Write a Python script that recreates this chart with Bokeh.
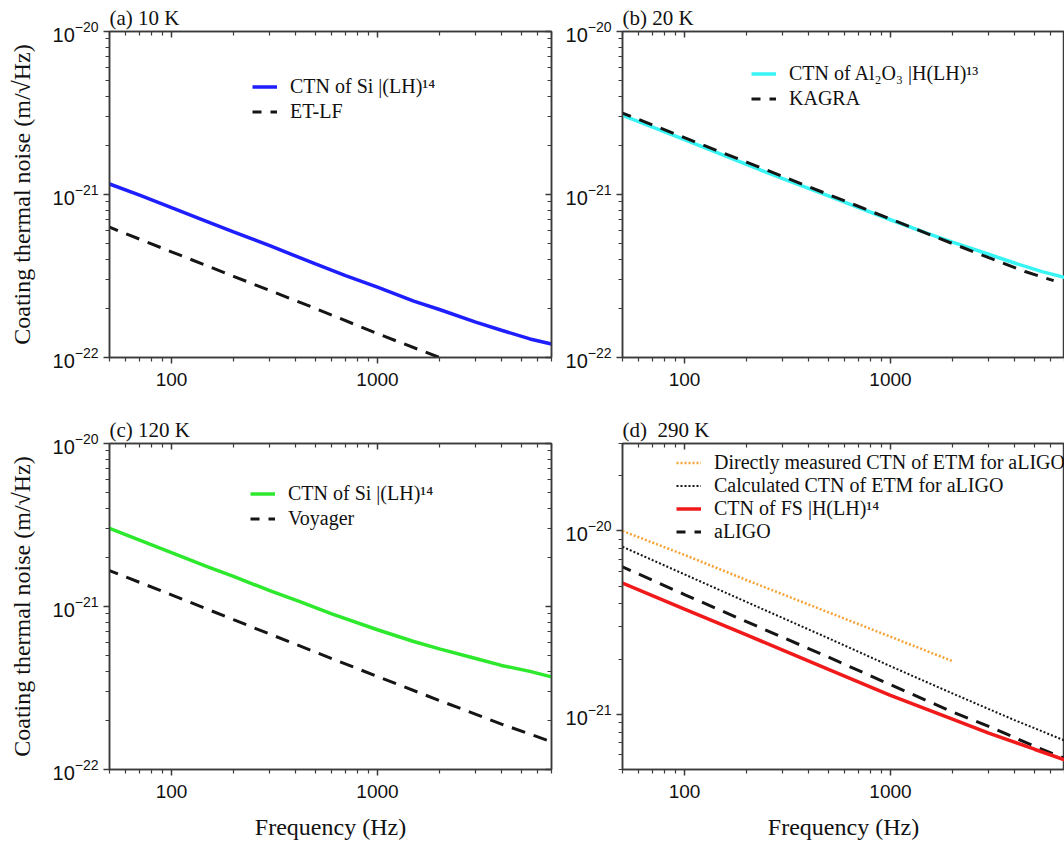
from bokeh.plotting import figure
from bokeh.layouts import column, row
from bokeh.models import (FixedTicker, LinearAxis, Legend, LegendItem,
                          BasicTickFormatter, CustomJSTickFormatter, LogTickFormatter)
from bokeh.embed import file_html
from bokeh.resources import INLINE

# ---------------- data ----------------
X_RANGE = (50, 7000)
X_MAJOR = [100, 1000]
X_MINOR = [50, 60, 70, 80, 90, 200, 300, 400, 500, 600, 700, 800, 900,
           2000, 3000, 4000, 5000, 6000, 7000]
Y_MAJOR_ABC = [1e-22, 1e-21, 1e-20]
Y_MINOR_ABC = [2e-22, 3e-22, 4e-22, 5e-22, 6e-22, 7e-22, 8e-22, 9e-22,
               2e-21, 3e-21, 4e-21, 5e-21, 6e-21, 7e-21, 8e-21, 9e-21]
Y_MAJOR_D = [1e-21, 1e-20]
Y_MINOR_D = [5e-22, 6e-22, 7e-22, 8e-22, 9e-22,
             2e-21, 3e-21, 4e-21, 5e-21, 6e-21, 7e-21, 8e-21, 9e-21, 2e-20, 3e-20]

titles = ["(a) 10 K", "(b) 20 K", "(c) 120 K", "(d)\u00a0 290 K"]

# (a) 10 K
freq_a = [50, 70, 100, 150, 200, 300, 500, 700, 1000, 1500, 2000, 3000, 4000, 5500, 7000]
ctn_si_10k = [1.16e-21, 9.9e-22, 8.3e-22, 6.8e-22, 5.9e-22, 4.85e-22, 3.75e-22, 3.18e-22,
              2.7e-22, 2.22e-22, 1.97e-22, 1.65e-22, 1.47e-22, 1.3e-22, 1.21e-22]
freq_etlf = [50, 100, 200, 500, 1000, 2000]
et_lf = [6.3e-22, 4.45e-22, 3.15e-22, 2.0e-22, 1.4e-22, 1.0e-22]

# (b) 20 K
freq_b = [50, 70, 100, 150, 200, 300, 500, 700, 1000, 1500, 2000, 3000, 4000, 5500, 7000]
ctn_al2o3 = [3.06e-21, 2.59e-21, 2.17e-21, 1.77e-21, 1.53e-21, 1.25e-21, 9.8e-22, 8.3e-22,
             7.0e-22, 5.8e-22, 5.1e-22, 4.3e-22, 3.8e-22, 3.35e-22, 3.1e-22]
freq_kagra = [50, 100, 200, 500, 1000, 2000, 3000, 4500, 6200]
kagra = [3.16e-21, 2.23e-21, 1.58e-21, 1.0e-21, 7.07e-22, 5.0e-22, 4.1e-22, 3.37e-22, 2.96e-22]

# (c) 120 K
freq_c = [50, 70, 100, 150, 200, 300, 420, 600, 1000, 1500, 2000, 3000, 4000, 5500, 7000]
ctn_si_120k = [3.02e-21, 2.55e-21, 2.14e-21, 1.75e-21, 1.53e-21, 1.25e-21, 1.07e-21, 9.0e-22,
               7.2e-22, 6.1e-22, 5.5e-22, 4.8e-22, 4.35e-22, 4.0e-22, 3.7e-22]
freq_voy = [50, 100, 200, 500, 1000, 2000, 4000, 7000]
voyager = [1.66e-21, 1.18e-21, 8.3e-22, 5.25e-22, 3.72e-22, 2.65e-22, 1.9e-22, 1.48e-22]

# (d) 290 K
freq_meas = [50, 100, 200, 500, 1000, 2000]
meas_etm = [1.0e-20, 7.4e-21, 5.4e-21, 3.6e-21, 2.65e-21, 1.95e-21]
freq_calc = [50, 100, 200, 500, 1000, 2000, 4000, 7000]
calc_etm = [8.2e-21, 5.8e-21, 4.1e-21, 2.6e-21, 1.83e-21, 1.3e-21, 9.3e-22, 7.2e-22]
freq_fs = [50, 100, 200, 300, 500, 1000, 2000, 3000, 5000, 7000]
ctn_fs = [5.2e-21, 3.75e-21, 2.71e-21, 2.24e-21, 1.76e-21, 1.27e-21, 9.4e-22, 7.9e-22, 6.45e-22, 5.65e-22]
freq_aligo = [50, 100, 200, 500, 1000, 2000, 3000, 5000, 7000]
aligo = [6.37e-21, 4.5e-21, 3.2e-21, 2.05e-21, 1.45e-21, 1.03e-21, 8.6e-22, 6.7e-22, 5.75e-22]

# ---------------- styling ----------------
AX = "#3a3a3a"
SERIF = "Liberation Serif"
SANS = "Liberation Sans"
TXT = "#111111"


def style_axis(ax, outward=True):
    ax.axis_line_color = AX
    ax.axis_line_width = 1.5
    ax.major_tick_line_color = AX
    ax.minor_tick_line_color = AX
    ax.major_tick_line_width = 1.5
    ax.minor_tick_line_width = 1.2
    if outward:
        ax.major_tick_out, ax.major_tick_in = 6, 0
        ax.minor_tick_out, ax.minor_tick_in = 4, 0
    else:
        ax.major_tick_out, ax.major_tick_in = 0, 6
        ax.minor_tick_out, ax.minor_tick_in = 0, 4


def make_panel(title, y_rng, y_major, y_minor, width, height, left, right, top, bottom,
               ylabel=None, xlabel=None, mirror_right=True):
    p = figure(width=width, height=height, x_axis_type="log", y_axis_type="log",
               x_range=X_RANGE, y_range=y_rng, output_backend="svg",
               toolbar_location=None, min_border_left=left, min_border_right=right,
               min_border_top=top, min_border_bottom=bottom)
    p.title.text = title
    p.title.text_font = SERIF
    p.title.text_font_size = "21px"
    p.title.text_font_style = "normal"
    p.title.text_color = TXT
    p.title.align = "left"
    p.title.offset = 0
    p.title.standoff = 3
    p.grid.visible = False
    p.outline_line_color = AX
    p.outline_line_width = 1.5
    p.background_fill_color = "white"
    p.border_fill_color = "white"

    xa = p.xaxis[0]
    xa.ticker = FixedTicker(ticks=X_MAJOR, minor_ticks=X_MINOR)
    xa.formatter = BasicTickFormatter(use_scientific=False)
    style_axis(xa)
    xa.major_label_text_font = SANS
    xa.major_label_text_font_size = "19px"
    xa.major_label_text_color = TXT
    xa.major_label_standoff = 9
    if xlabel:
        xa.axis_label = xlabel
        xa.axis_label_text_font = SERIF
        xa.axis_label_text_font_size = "24px"
        xa.axis_label_text_font_style = "normal"
        xa.axis_label_text_color = TXT
        xa.axis_label_standoff = 13

    ya = p.yaxis[0]
    ya.ticker = FixedTicker(ticks=y_major, minor_ticks=y_minor)
    ya.formatter = LogTickFormatter()
    style_axis(ya)
    ya.major_label_text_font = SANS
    ya.major_label_text_font_size = "20px"
    ya.major_label_text_color = TXT
    ya.major_label_standoff = 5
    if ylabel:
        ya.axis_label = ylabel
        ya.axis_label_text_font = SERIF
        ya.axis_label_text_font_size = "24px"
        ya.axis_label_text_font_style = "normal"
        ya.axis_label_text_color = TXT
        ya.axis_label_standoff = 15

    ta = LinearAxis(ticker=FixedTicker(ticks=X_MAJOR, minor_ticks=X_MINOR),
                    formatter=CustomJSTickFormatter(code="return ''"),
                    major_label_text_font_size="0px", major_label_standoff=0)
    style_axis(ta, outward=False)
    p.add_layout(ta, "above")
    if mirror_right:
        ra = LinearAxis(ticker=FixedTicker(ticks=y_major, minor_ticks=y_minor),
                        formatter=CustomJSTickFormatter(code="return ''"),
                        major_label_text_font_size="0px", major_label_standoff=0)
        style_axis(ra, outward=False)
        p.add_layout(ra, "right")
    return p


def add_legend(p, entries, loc, row_h):
    items = [LegendItem(label=label, renderers=[r]) for label, r in entries]
    lg = Legend(items=items, location=loc, label_text_font=SERIF, label_text_font_size="20px",
                label_text_color=TXT, glyph_width=25, glyph_height=row_h,
                label_height=row_h, label_standoff=13, spacing=0, padding=0, margin=0,
                border_line_color=None, background_fill_alpha=0)
    p.add_layout(lg)


W_L, W_R = 560, 504
H_T, H_B = 400, 446
YLAB = "Coating thermal noise (m/\u221aHz)"
XLAB = "Frequency (Hz)"

BLUE = "#1e1eff"
CYAN = "#38f4f4"
GREEN = "#2ee82e"
RED = "#f01a1a"
ORANGE = "#f5a43a"
BLK = "#151515"
DASH = "14 9"
DASH_OFF = 5

# (a)
pa = make_panel(titles[0], (1e-22, 1e-20), Y_MAJOR_ABC, Y_MINOR_ABC, W_L, H_T, 109, 9, 31, 43, ylabel=YLAB)
ra1 = pa.line(freq_a, ctn_si_10k, line_color=BLUE, line_width=3.5)
ra2 = pa.line(freq_etlf, et_lf, line_color=BLK, line_width=3, line_dash=DASH, line_dash_offset=DASH_OFF)
add_legend(pa, [("CTN of Si |(LH)\u00b9\u2074", ra1), ("ET-LF", ra2)], (143, 233), 25)

# (b)
pb = make_panel(titles[1], (1e-22, 1e-20), Y_MAJOR_ABC, Y_MINOR_ABC, W_R, H_T, 62, 0, 31, 43, mirror_right=False)
rb1 = pb.line(freq_b, ctn_al2o3, line_color=CYAN, line_width=3.5)
rb2 = pb.line(freq_kagra, kagra, line_color=BLK, line_width=3, line_dash=DASH, line_dash_offset=DASH_OFF)
add_legend(pb, [("CTN of Al\u2082O\u2083 |H(LH)\u00b9\u00b3", rb1), ("KAGRA", rb2)], (129, 246), 25)

# (c)
pc = make_panel(titles[2], (1e-22, 1e-20), Y_MAJOR_ABC, Y_MINOR_ABC, W_L, H_B, 109, 9, 43, 77, ylabel=YLAB, xlabel=XLAB)
rc1 = pc.line(freq_c, ctn_si_120k, line_color=GREEN, line_width=3.5)
rc2 = pc.line(freq_voy, voyager, line_color=BLK, line_width=3, line_dash=DASH, line_dash_offset=DASH_OFF)
add_legend(pc, [("CTN of Si |(LH)\u00b9\u2074", rc1), ("Voyager", rc2)], (141, 238), 25)

# (d)
pd_ = make_panel(titles[3], (5e-22, 3e-20), Y_MAJOR_D, Y_MINOR_D, W_R, H_B, 62, 0, 43, 77, xlabel=XLAB, mirror_right=False)
rd1 = pd_.line(freq_meas, meas_etm, line_color=ORANGE, line_width=2.5, line_dash="2 2")
rd2 = pd_.line(freq_calc, calc_etm, line_color=BLK, line_width=2, line_dash="2 2")
rd4 = pd_.line(freq_aligo, aligo, line_color=BLK, line_width=3, line_dash=DASH, line_dash_offset=DASH_OFF)
rd3 = pd_.line(freq_fs, ctn_fs, line_color=RED, line_width=3.5)
add_legend(pd_, [("Directly measured CTN of ETM for aLIGO", rd1),
                 ("Calculated CTN of ETM for aLIGO", rd2),
                 ("CTN of FS |H(LH)\u00b9\u2074", rd3),
                 ("aLIGO", rd4)], (54, 226), 23)

layout = column(row(pa, pb), row(pc, pd_))
open("out.html", "w").write(file_html(layout, INLINE))
